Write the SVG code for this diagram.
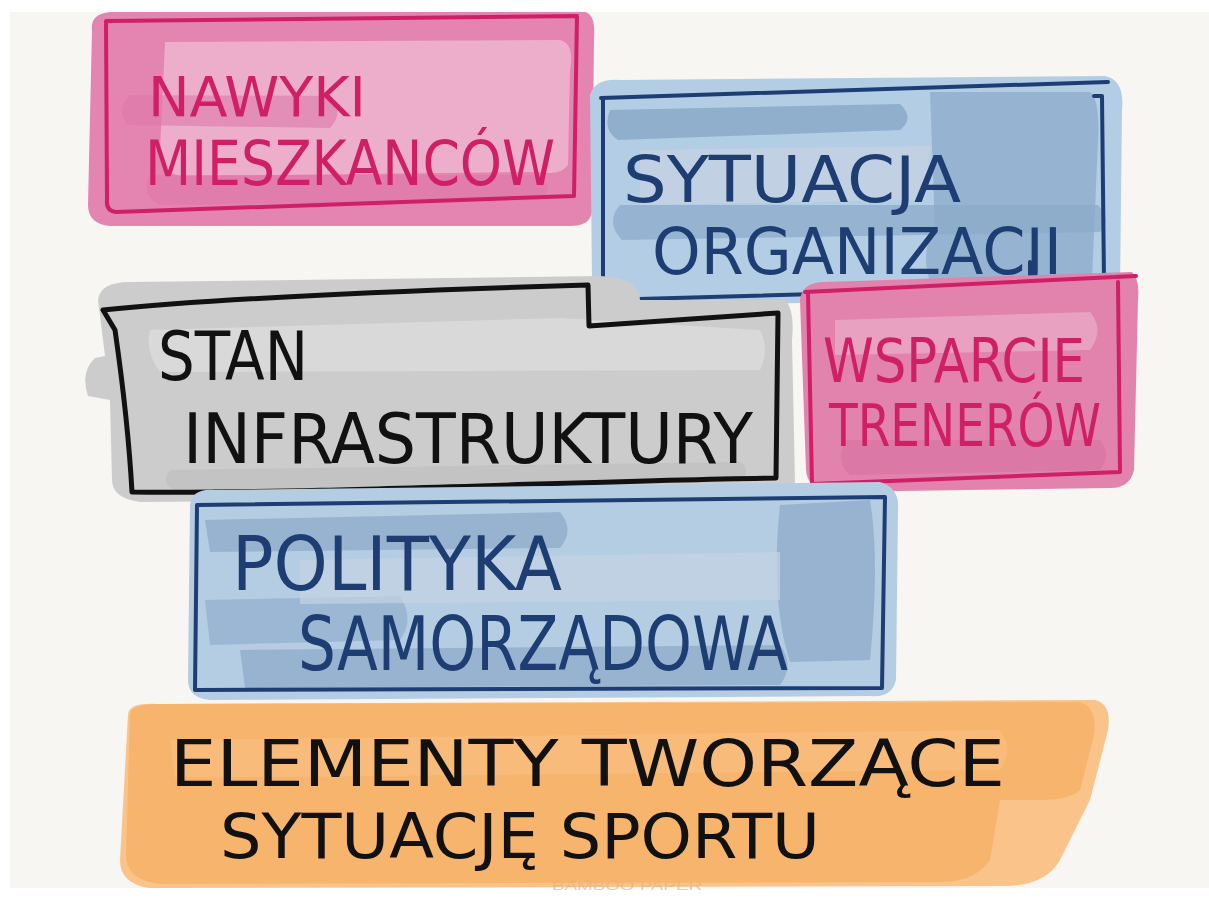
<svg xmlns="http://www.w3.org/2000/svg" width="1209" height="912" viewBox="0 0 1209 912">
<defs>
<style>
.lbl{font-family:"DejaVu Sans Condensed","Liberation Sans Narrow","Liberation Sans",sans-serif;font-weight:normal}
.pinkT{fill:#cf1f66}
.blueT{fill:#1e3d72}
.blackT{fill:#111}
.pinkO{fill:none;stroke:#cf1f66;stroke-width:4;stroke-linejoin:round;stroke-linecap:round}
.blueO{fill:none;stroke:#1e3d72;stroke-width:4;stroke-linejoin:round;stroke-linecap:round}
.blackO{fill:none;stroke:#111;stroke-width:5;stroke-linejoin:round;stroke-linecap:round}
</style>
</defs>
<rect x="0" y="0" width="1209" height="912" fill="#ffffff"/>
<rect x="10" y="12" width="1199" height="876" fill="#f7f6f2"/>

<g id="node-nawyki">
<path d="M92,30 Q90,14 110,12 L585,12 Q596,14 594,40 L592,212 Q590,226 570,226 L110,226 Q88,224 88,205 Z" fill="#e384b1"/>
<path d="M165,42 L560,40 Q575,44 570,70 L568,165 Q560,176 540,172 L180,176 Q158,172 160,150 Z" fill="#ecb3ce" opacity="0.9"/>
<path d="M130,95 Q115,110 128,125 L330,128 Q345,112 330,96 Z" fill="#de78a8" opacity="0.6"/>
<path d="M150,175 Q140,195 160,205 L540,200 Q555,190 540,175 Z" fill="#de78a8" opacity="0.6"/>
<path class="pinkO" d="M106,21 L577,16 L574,196 L116,212 Q106,211 107,200 L106,21"/>
<text class="lbl pinkT" x="148" y="116" font-size="56" textLength="218" lengthAdjust="spacingAndGlyphs">NAWYKI</text>
<text class="lbl pinkT" x="145" y="185" font-size="62" textLength="410" lengthAdjust="spacingAndGlyphs">MIESZKANCÓW</text>
</g>

<g id="node-sytuacja">
<path d="M590,95 Q595,78 620,80 L1105,76 Q1125,80 1122,110 L1120,290 Q1115,302 1095,300 L615,305 Q592,302 592,280 Z" fill="#b2cde4"/>
<path d="M610,110 Q602,130 618,140 L900,130 Q915,118 900,104 Z" fill="#8aa9c9" opacity="0.85"/>
<path d="M930,92 L1090,92 Q1100,100 1098,140 L1092,280 L930,282 Q920,250 935,230 Z" fill="#8aa9c9" opacity="0.7"/>
<path d="M620,205 Q605,222 622,240 L1100,232 Q1112,220 1098,205 Z" fill="#8aa9c9" opacity="0.7"/>
<path d="M640,150 L930,146 L925,200 L640,205 Z" fill="#c7d3e3" opacity="0.7"/>
<path class="blueO" d="M601,98 L1108,82"/>
<path class="blueO" d="M603,98 L603,300 L1110,286"/>
<path class="blueO" d="M1094,96 L1102,96 L1104,282"/>
<text class="lbl blueT" x="623" y="202" font-size="64" textLength="338" lengthAdjust="spacingAndGlyphs">SYTUACJA</text>
<text class="lbl blueT" x="652" y="274" font-size="64" textLength="410" lengthAdjust="spacingAndGlyphs">ORGANIZACJI</text>
<path class="blueO" d="M1030,262 L1030,300 Q1025,312 1012,300"/>
</g>

<g id="node-wsparcie">
<path d="M800,300 Q802,282 825,282 L1132,272 Q1140,280 1138,300 L1134,470 Q1130,488 1110,488 L830,492 Q808,490 806,470 Z" fill="#e183ad"/>
<path d="M835,320 L1090,312 Q1105,330 1090,350 L835,355 Z" fill="#eaa9c6" opacity="0.8"/>
<path d="M845,440 Q835,462 850,475 L1100,470 Q1112,455 1100,440 Z" fill="#d86d9f" opacity="0.5"/>
<path class="pinkO" d="M805,292 L1136,276"/>
<path class="pinkO" d="M808,292 L812,484 L1120,472 L1118,282"/>
<text class="lbl pinkT" x="823" y="382" font-size="60" textLength="262" lengthAdjust="spacingAndGlyphs">WSPARCIE</text>
<text class="lbl pinkT" x="829" y="446" font-size="58" textLength="272" lengthAdjust="spacingAndGlyphs">TRENERÓW</text>
</g>

<g id="node-stan">
<path d="M98,300 Q100,282 130,282 L600,276 Q640,278 640,300 L785,300 Q795,310 792,340 L795,482 Q790,498 770,496 L140,502 Q112,498 112,480 L110,400 L88,396 Q80,372 95,358 L105,356 Z" fill="#cccccc"/>
<path d="M150,330 L560,318 L760,330 Q770,350 760,370 L160,372 Q145,352 150,330 Z" fill="#dcdcdc" opacity="0.8"/>
<path d="M170,470 Q160,485 175,490 L740,482 Q752,470 740,462 Z" fill="#bdbdbd" opacity="0.6"/>
<path class="blackO" d="M103,310 C 220,298 420,290 588,285 L589,326 L778,313 L776,478 C 600,480 320,494 132,492 Q128,420 115,330 Z"/>
<text class="lbl blackT" x="158" y="380" font-size="68" textLength="150" lengthAdjust="spacingAndGlyphs">STAN</text>
<text class="lbl blackT" x="183" y="463" font-size="70" textLength="570" lengthAdjust="spacingAndGlyphs">INFRASTRUKTURY</text>
</g>

<g id="node-polityka">
<path d="M190,505 Q192,488 215,490 L880,482 Q900,488 898,510 L896,680 Q892,698 870,696 L210,700 Q188,698 188,680 Z" fill="#b4cde3"/>
<path d="M205,520 L560,512 Q575,530 560,548 L210,552 Z" fill="#8aa8c8" opacity="0.7"/>
<path d="M780,505 L870,500 Q880,560 870,660 L790,662 Q770,600 780,505 Z" fill="#8aa8c8" opacity="0.7"/>
<path d="M205,600 L400,596 Q415,620 400,640 L210,645 Z" fill="#8aa8c8" opacity="0.6"/>
<path d="M240,650 L780,645 Q795,665 780,685 L245,688 Z" fill="#8aa8c8" opacity="0.7"/>
<path d="M300,560 L780,552 L780,600 L300,604 Z" fill="#c5d3e3" opacity="0.7"/>
<path class="blueO" d="M197,505 L885,497 L882,688 L195,690 Z"/>
<text class="lbl blueT" x="232" y="590" font-size="74" textLength="330" lengthAdjust="spacingAndGlyphs">POLITYKA</text>
<text class="lbl blueT" x="298" y="670" font-size="74" textLength="490" lengthAdjust="spacingAndGlyphs">SAMORZĄDOWA</text>
</g>

<g id="node-elementy">
<path d="M128,715 Q128,702 158,704 L1095,700 Q1112,704 1108,730 L1090,800 L1060,860 Q1045,886 1005,886 L150,888 Q120,884 120,860 Z" fill="#f9c389"/>
<path d="M130,715 Q130,704 160,704 L1080,702 Q1098,708 1094,735 L1080,790 Q1070,800 1040,800 L1000,800 L990,860 Q975,882 940,882 L160,884 Q126,880 126,855 Z" fill="#f7b46c"/>
<path d="M170,740 L1000,730 Q1015,750 1000,770 L175,778 Z" fill="#f9c083" opacity="0.6"/>
<text class="lbl blackT" x="170" y="786" font-size="64" textLength="835" lengthAdjust="spacingAndGlyphs">ELEMENTY TWORZĄCE</text>
<text class="lbl blackT" x="220" y="858" font-size="62" textLength="600" lengthAdjust="spacingAndGlyphs">SYTUACJĘ SPORTU</text>
<text x="552" y="890" font-family="Liberation Sans, sans-serif" font-size="13" fill="#e6b586" opacity="0.7" textLength="150" lengthAdjust="spacingAndGlyphs">BAMBOO PAPER</text>
</g>

<g id="connectors"></g>
</svg>
